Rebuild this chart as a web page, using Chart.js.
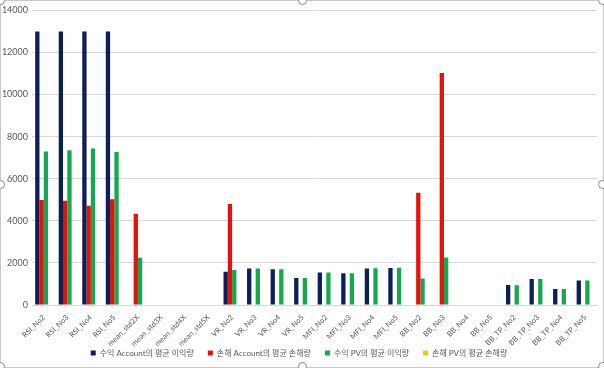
<!DOCTYPE html>
<html><head><meta charset="utf-8">
<script src="https://cdn.jsdelivr.net/npm/chart.js@4/dist/chart.umd.min.js"></script>
<style>
html,body{margin:0;padding:0;background:#fff;}
#wrap{position:relative;width:604px;height:368px;box-sizing:border-box;border:1px solid #c8c8c8;}
canvas{position:absolute;left:0;top:0;}
.h{position:absolute;width:7px;height:7px;border:1px solid #888;border-radius:50%;background:#fff;}
</style></head>
<body>
<div id="wrap"><canvas id="c" width="602" height="366"></canvas>
<div class="h" style="left:-5px;top:-5px"></div>
<div class="h" style="left:297px;top:-5px"></div>
<div class="h" style="left:597px;top:-5px"></div>
<div class="h" style="left:-5px;top:179px"></div>
<div class="h" style="left:597px;top:179px"></div>
<div class="h" style="left:-5px;top:361px"></div>
<div class="h" style="left:297px;top:361px"></div>
<div class="h" style="left:597px;top:361px"></div>
</div>
<script>
const categories = ["RSI_No2","RSI_No3","RSI_No4","RSI_No5","mean_std2X","mean_std3X","mean_std4X","mean_std5X","VR_No2","VR_No3","VR_No4","VR_No5","MFI_No2","MFI_No3","MFI_No4","MFI_No5","BB_No2","BB_No3","BB_No4","BB_No5","BB_TP_No2","BB_TP_No3","BB_TP_No4","BB_TP_No5"];
const seriesNames = ["수익 Account의 평균 이익량","손해 Account의 평균 손해량","수익 PV의 평균 이익량","손해 PV의 평균 손해량"];
const profitAccount = [13000,13000,13000,13000,0,0,0,0,1580,1730,1700,1280,1550,1510,1740,1760,0,0,0,0,950,1230,760,1170];
const lossAccount   = [4990,4950,4720,5030,4340,0,0,0,4800,0,0,0,0,0,0,0,5330,11030,0,0,0,0,0,0];
const profitPV      = [7300,7350,7440,7270,2250,0,0,0,1660,1740,1700,1280,1550,1510,1750,1770,1260,2260,0,0,940,1230,760,1170];
const lossPV        = [0,0,0,0,0,0,0,0,0,0,0,0,0,0,0,0,0,0,0,0,0,0,0,0];
const yTicks = [0,2000,4000,6000,8000,10000,12000,14000];

const colors = ["#0b1f5a","#e3120b","#14a84f","#f5c21b"];
const values = [profitAccount, lossAccount, profitPV, lossPV];
const textColor = "#595959";
const fontFam = "Lato, 'Noto Sans CJK KR', sans-serif";

const legendShift = {
  id:'legendShift',
  afterLayout(chart){
    const lg = chart.legend;
    if(lg){ lg.top -= 14; lg.bottom -= 14; }
  }
};

new Chart(document.getElementById('c'), {
  type: 'bar',
  data: {
    labels: categories,
    datasets: seriesNames.map((n,i)=>({label:n,data:values[i],backgroundColor:colors[i],borderWidth:0,barPercentage:1.0,categoryPercentage:0.73}))
  },
  plugins:[legendShift],
  options: {
    responsive:false, animation:false,
    layout:{padding:{top:7,left:0,right:6,bottom:-14}},
    plugins:{
      tooltip:{enabled:false},
      legend:{position:'bottom',labels:{boxWidth:5,boxHeight:5,color:textColor,font:{family:fontFam,size:8},padding:14}}
    },
    scales:{
      x:{
        grid:{display:false,drawTicks:false,tickLength:0},
        border:{color:'#d9d9d9'},
        ticks:{color:textColor,font:{family:fontFam,size:7.5},maxRotation:45,minRotation:45,autoSkip:false,padding:8},
        afterFit:(s)=>{s.height=44;}
      },
      y:{
        min:0,max:14000,
        afterBuildTicks:(s)=>{s.ticks=yTicks.map(v=>({value:v}));},
        grid:{color:'#d9d9d9',drawTicks:false},
        border:{display:false},
        ticks:{color:textColor,font:{family:fontFam,size:9},padding:4,callback:(v)=>String(v)},
        afterFit:(s)=>{s.width=31;}
      }
    }
  }
});
</script>
</body></html>
